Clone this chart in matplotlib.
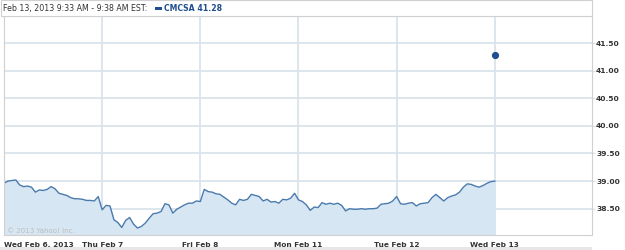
import numpy as np
import matplotlib
matplotlib.use("Agg")
import matplotlib.pyplot as plt
from matplotlib.patches import Rectangle

# ---- data ----
day_labels = ["Wed Feb 6, 2013", "Thu Feb 7", "Fri Feb 8", "Mon Feb 11", "Tue Feb 12", "Wed Feb 13"]
y_ticks = [38.50, 39.00, 39.50, 40.00, 40.50, 41.00, 41.50]

wed_feb6 = [38.96, 39.00, 39.01, 39.02, 38.93, 38.90, 38.91, 38.89, 38.80, 38.84, 38.83, 38.85, 38.90,
            38.86, 38.78, 38.76, 38.74, 38.70, 38.68, 38.68, 38.67, 38.65, 38.65, 38.64, 38.72]
thu_feb7 = [38.48, 38.56, 38.55, 38.30, 38.25, 38.16, 38.29, 38.34, 38.22, 38.15, 38.18, 38.24, 38.33,
            38.41, 38.42, 38.45, 38.59, 38.57, 38.42, 38.49, 38.53, 38.57, 38.60, 38.60, 38.64]
fri_feb8 = [38.63, 38.85, 38.81, 38.80, 38.77, 38.76, 38.71, 38.66, 38.60, 38.57, 38.67, 38.65, 38.67,
            38.76, 38.74, 38.72, 38.64, 38.67, 38.62, 38.63, 38.60, 38.67, 38.66, 38.69, 38.78]
mon_feb11 = [38.66, 38.63, 38.57, 38.47, 38.53, 38.52, 38.61, 38.58, 38.60, 38.58, 38.60, 38.56, 38.46,
             38.50, 38.49, 38.49, 38.50, 38.49, 38.50, 38.50, 38.51, 38.58, 38.59, 38.60, 38.64]
tue_feb12 = [38.72, 38.59, 38.58, 38.60, 38.61, 38.55, 38.59, 38.60, 38.61, 38.70, 38.76, 38.70, 38.64,
             38.70, 38.73, 38.75, 38.80, 38.89, 38.95, 38.94, 38.91, 38.89, 38.92, 38.96, 38.99, 39.00]
wed_feb13_price = 41.28

prices = np.array(wed_feb6 + thu_feb7 + fri_feb8 + mon_feb11 + tue_feb12)
x = np.linspace(0, 5, len(prices))

# ---- figure ----
W, H = 625, 250
fig = plt.figure(figsize=(W / 100, H / 100), dpi=100)
plt.rcParams['font.family'] = ['DejaVu Sans']

L, R, T, B = 3.5, 592, 16, 235
ax = fig.add_axes([L / W, 1 - B / H, (R - L) / W, (B - T) / H])

grid_c = "#dae3ec"
line_c = "#4a7aad"
fill_c = "#d6e6f2"
text_c = "#333333"

ax.set_xlim(-0.005, 5.99)
ax.set_ylim(38.024, 41.989)

for yv in y_ticks:
    ax.axhline(yv, color=grid_c, lw=1.3, zorder=0)
for d in range(1, 6):
    ax.axvline(d, color=grid_c, lw=1.3, zorder=0)

ax.fill_between(x, prices, 38.0, color=fill_c, lw=0, zorder=1)
ax.plot(x, prices, color=line_c, lw=1.0, zorder=2)
ax.plot([5], [wed_feb13_price], 'o', color="#1f4f8f", ms=4.2, zorder=3)

ax.set_xticks([])
ax.yaxis.tick_right()
ax.set_yticks(y_ticks)
ax.set_yticklabels([f"{v:.2f}" for v in y_ticks], fontsize=5.4, fontweight='bold', color=text_c)
ax.tick_params(axis='y', length=2, color=grid_c, width=1, pad=1)
for s in ax.spines.values():
    s.set_color("#d0d0d0")
    s.set_linewidth(0.8)

# x labels
for i, lab in enumerate(day_labels):
    ha = 'left' if i == 0 else 'center'
    xv = 0.0 if i == 0 else i
    ax.text(xv, -0.03, lab, transform=ax.get_xaxis_transform(), ha=ha, va='top',
            fontsize=5.3, fontweight='bold', color=text_c)

ax.text(0.03, 38.1, "\u00a9 2013 Yahoo! Inc.", fontsize=5, color="#bdbdbd", ha='left', va='center')

# header box
fig.patches.append(Rectangle((0.5 / W, 1 - 16 / H), (R - 0.5) / W, 15.5 / H, transform=fig.transFigure,
                             facecolor='white', edgecolor="#d0d0d0", lw=0.8))
fig.text(3 / W, 1 - 8.5 / H, "Feb 13, 2013 9:33 AM - 9:38 AM EST:", fontsize=5.7, color="#333333",
         ha='left', va='center')
fig.patches.append(Rectangle((155 / W, 1 - 10 / H), 7 / W, 3 / H, transform=fig.transFigure,
                             facecolor="#1f4f8f", edgecolor='none'))
fig.text(164 / W, 1 - 8.5 / H, "CMCSA 41.28", fontsize=5.6, color="#1f4f8f", fontweight='bold',
         ha='left', va='center')

# bottom band
fig.patches.append(Rectangle((0, 0), R / W, 3 / H, transform=fig.transFigure,
                             facecolor="#e6e6e6", edgecolor='none'))

fig.savefig("out.png", dpi=100)
